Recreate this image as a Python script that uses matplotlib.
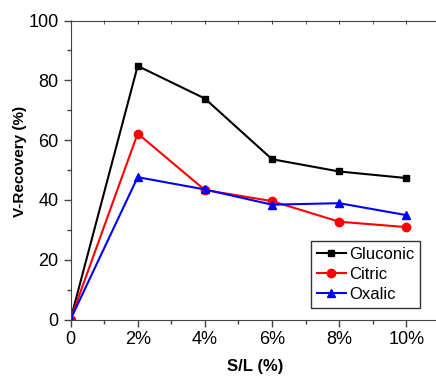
import matplotlib
matplotlib.use("Agg")
import matplotlib.pyplot as plt
from matplotlib.ticker import MultipleLocator

plt.rcParams['font.family'] = ['Liberation Sans', 'DejaVu Sans']

sl = [0, 2, 4, 6, 8, 10]
xlabels = ['0', '2%', '4%', '6%', '8%', '10%']
gluconic = [0, 84.8, 73.9, 53.6, 49.5, 47.3]
citric = [0, 62.2, 43.3, 39.6, 32.7, 30.9]
oxalic = [0, 47.6, 43.5, 38.4, 38.9, 34.9]

fig = plt.figure(figsize=(4.36, 3.76), dpi=100)
W, H = 436, 376
ax = fig.add_axes([70.5 / W, 1 - 319.5 / H, (440 - 70.5) / W, 299 / H])

ax.plot(sl, gluconic, '-s', color='black', lw=1.5, ms=5, label='Gluconic')
ax.plot(sl, citric, '-o', color='red', lw=1.5, ms=6, label='Citric')
ax.plot(sl, oxalic, '-^', color='blue', lw=1.5, ms=6, label='Oxalic')

ax.set_xlim(0, 11)
ax.set_ylim(0, 100)
ax.set_xticks(sl)
ax.set_xticklabels(xlabels)
ax.xaxis.set_minor_locator(MultipleLocator(1))
ax.yaxis.set_major_locator(MultipleLocator(20))
ax.yaxis.set_minor_locator(MultipleLocator(10))
ax.tick_params(which='major', direction='out', length=5, width=1, labelsize=13, color='#444444')
ax.tick_params(which='minor', direction='out', length=3, width=1, color='#444444')
for s in ax.spines.values():
    s.set_color('#444444')

# short inward ticks along the top edge
top = ax.secondary_xaxis('top')
top.set_xticks(sl)
top.xaxis.set_minor_locator(MultipleLocator(1))
top.tick_params(which='both', direction='in', length=3, labeltop=False, color='#444444')
top.spines['top'].set_visible(False)

ax.set_xlabel('S/L (%)', fontsize=12, fontweight='bold')
ax.set_ylabel('V-Recovery (%)', fontsize=11, fontweight='bold')
ax.xaxis.set_label_coords(0.5, (319.5 - 366) / 299, transform=ax.transAxes)
ax.yaxis.set_label_coords((20 - 70.5) / 369.5, (319.5 - 161.5) / 299, transform=ax.transAxes)
ax.xaxis.label.set_va('center')
ax.yaxis.label.set_va('center')

leg = ax.legend(loc='lower right', bbox_to_anchor=(420 / W, 1 - 308 / H),
                bbox_transform=fig.transFigure, fontsize=12,
                frameon=True, fancybox=False, edgecolor='black', handlelength=1.7,
                handletextpad=0.2, borderpad=0.35, labelspacing=0.3, borderaxespad=0)
leg.get_frame().set_linewidth(1)

fig.savefig('out.png', dpi=100)
